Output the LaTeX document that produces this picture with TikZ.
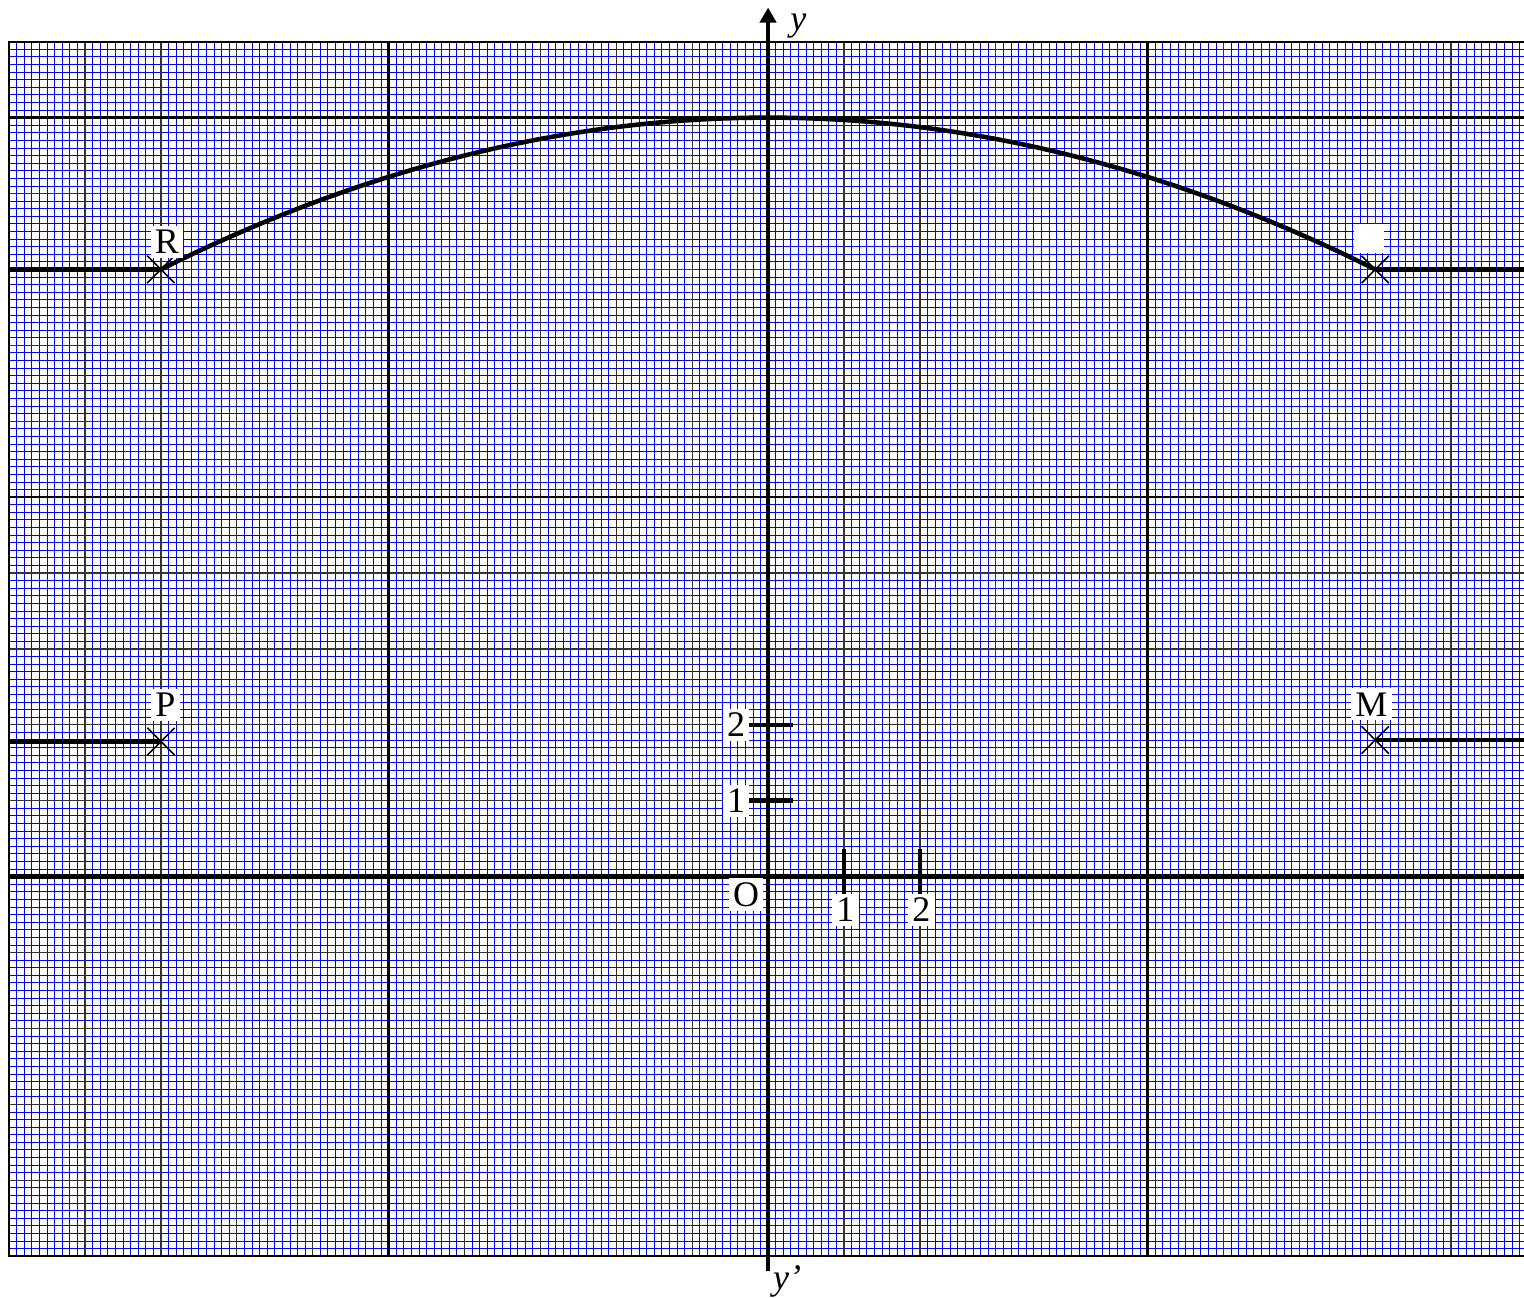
\documentclass[tikz,border=0pt]{standalone}
\usepackage{fontspec}
\setmainfont{Liberation Serif}
\usetikzlibrary{arrows.meta,calc}
\tikzset{
 lbl/.style={fill=white,inner sep=1.6pt},
 cross/.style={line width=0.6pt},
 thickline/.style={line width=1.7pt},
}
\begin{document}
\begin{tikzpicture}[font=\fontsize{13.5}{15}\selectfont]
\clip (-10.12,-5.55) rectangle (9.96,11.55);
% papier millimetre
\draw[blue,line width=0.28pt,step=0.1] (-10,-5) grid (10,11);
\draw[black!80,line width=0.5pt,step=1] (-10,-5) grid (10,11);
\draw[line width=0.9pt,step=5] (-10,-5) grid (10,11);
\draw[line width=0.9pt] (-10,-5) rectangle (10,11);
% axes
\coordinate (O) at (0,0);
\coordinate (xl) at (-10,0); \coordinate (xr) at (10,0);
\coordinate (yb) at (0,-5.2); \coordinate (yt) at (0,11.45);
\draw[thickline] (xl)--(xr);
\draw[thickline,-{Triangle[length=5.6pt,width=6pt]}] (yb)--(yt);
\node (laby) at (0.4,11.2) {\textit{y}};
\node (labyp) at (0.25,-5.33) {\textit{y’}};
\node[lbl] (labO) at (-0.29,-0.24) {O};
\foreach \k in {1,2}{
 \draw[thickline] (-0.3,\k)--(0.33,\k);
 \node[lbl] (ty\k) at (-0.42,\k) {\k};
 \draw[thickline] (\k,0.36)--(\k,-0.24);
 \node[lbl] (tx\k) at (\k+0.02,-0.44) {\k};
}
% courbe
\draw[thickline] plot[domain=-8:8,samples=81,smooth] (\x,{10-\x*\x/32});
% points
\coordinate (R) at (-8,8); \coordinate (N) at (8,8);
\coordinate (P) at (-8,1.78); \coordinate (M) at (8,1.8);
\coordinate (Rl) at (-10,8); \coordinate (Nr) at (10,8);
\coordinate (Pl) at (-10,1.78); \coordinate (Mr) at (10,1.8);
\draw[thickline] (Rl)--(R) (N)--(Nr) (Pl)--(P) (M)--(Mr);
\foreach \pt in {R,N,P,M}{
 \draw[cross] ($(\pt)+(-0.18,-0.18)$)--($(\pt)+(0.18,0.18)$) ($(\pt)+(-0.18,0.18)$)--($(\pt)+(0.18,-0.18)$);
}
\node[lbl] (labR) at (-7.92,8.36) {R};
\node[lbl] (labP) at (-7.94,2.26) {P};
\node[lbl] (labM) at (7.95,2.27) {M};
\node[lbl,minimum width=0.4cm,minimum height=0.38cm] (labN) at (7.92,8.41) {};
\end{tikzpicture}
\end{document}
